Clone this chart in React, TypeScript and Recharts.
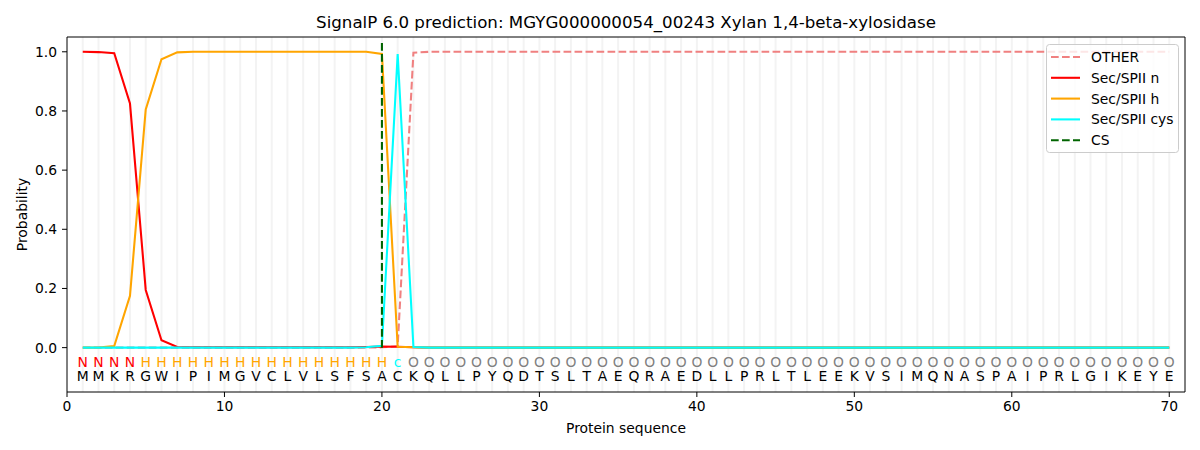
import React from 'react';
import { ComposedChart, Line, XAxis, YAxis, ReferenceLine, Legend } from 'recharts';

const residues = 'MMKRGWIPIMGVCLVLSFSACKQLLPYQDTSLTAEQRAEDLLPRLTLEEKVSIMQNASPAIPRLGIKEYE'.split('');
const states = 'NNNNHHHHHHHHHHHHHHHHcOOOOOOOOOOOOOOOOOOOOOOOOOOOOOOOOOOOOOOOOOOOOOOOOO'.split('');
const positions = residues.map((_, i) => i + 1);

const otherVals = [
  0, 0, 0, 0, 0, 0, 0, 0, 0, 0, 0, 0, 0, 0, 0, 0, 0, 0, 0, 0.001,
  0.005, 0.997, 1, 1, 1, 1, 1, 1, 1, 1, 1, 1, 1, 1, 1, 1, 1, 1, 1, 1,
  1, 1, 1, 1, 1, 1, 1, 1, 1, 1, 1, 1, 1, 1, 1, 1, 1, 1, 1, 1,
  1, 1, 1, 1, 1, 1, 1, 1, 1, 1,
];
const nVals = [
  1.0, 0.999, 0.995, 0.825, 0.195, 0.025, 0.002, 0.001, 0.001, 0.001, 0.001, 0.001, 0.001, 0.001, 0.001, 0.001, 0.001, 0.001, 0.002, 0.004,
  0.003, 0.001, 0, 0, 0, 0, 0, 0, 0, 0, 0, 0, 0, 0, 0, 0, 0, 0, 0, 0,
  0, 0, 0, 0, 0, 0, 0, 0, 0, 0, 0, 0, 0, 0, 0, 0, 0, 0, 0, 0,
  0, 0, 0, 0, 0, 0, 0, 0, 0, 0,
];
const hVals = [
  0, 0, 0.005, 0.175, 0.805, 0.975, 0.998, 1, 1, 1, 1, 1, 1, 1, 1, 1, 1, 1, 1, 0.993,
  0.003, 0.001, 0, 0, 0, 0, 0, 0, 0, 0, 0, 0, 0, 0, 0, 0, 0, 0, 0, 0,
  0, 0, 0, 0, 0, 0, 0, 0, 0, 0, 0, 0, 0, 0, 0, 0, 0, 0, 0, 0,
  0, 0, 0, 0, 0, 0, 0, 0, 0, 0,
];
const cysVals = [
  0, 0, 0, 0, 0, 0, 0, 0, 0, 0, 0, 0, 0, 0, 0, 0, 0, 0, 0.001, 0.006,
  0.992, 0.002, 0, 0, 0, 0, 0, 0, 0, 0, 0, 0, 0, 0, 0, 0, 0, 0, 0, 0,
  0, 0, 0, 0, 0, 0, 0, 0, 0, 0, 0, 0, 0, 0, 0, 0, 0, 0, 0, 0,
  0, 0, 0, 0, 0, 0, 0, 0, 0, 0,
];
const csPos = 20;
const csRange = [0, 1.035];

const xTicks = [0, 10, 20, 30, 40, 50, 60, 70];
const yTicks = [0, 0.2, 0.4, 0.6, 0.8, 1.0];
const xDomain = [0, 71];
const yDomain = [-0.15, 1.05];
const stateRowY = -0.048;
const residueRowY = -0.097;

const stateColors: Record<string, string> = { N: '#ff0000', H: '#ffa500', c: '#00ffff', O: '#808080' };

const title = 'SignalP 6.0 prediction: MGYG000000054_00243 Xylan 1,4-beta-xylosidase';

const toRows = (vals: number[]) => positions.map((p, i) => ({ x: p, y: vals[i] }));
const otherRows = toRows(otherVals);
const nRows = toRows(nVals);
const hRows = toRows(hVals);
const cysRows = toRows(cysVals);
const csRows = csRange.map((v) => ({ x: csPos, y: v }));
const stateRows = positions.map((p, i) => ({ x: p, y: stateRowY, ch: states[i], color: stateColors[states[i]] }));
const residueRows = positions.map((p, i) => ({ x: p, y: residueRowY, ch: residues[i], color: '#000000' }));

const FONT = '"DejaVu Sans", sans-serif';
const FS = 13.89;
const LW = 2.08;
const DASH = '7.7 3.3';

const legendItems = [
  { name: 'OTHER', color: '#f08080', dash: DASH },
  { name: 'Sec/SPII n', color: '#ff0000', dash: undefined },
  { name: 'Sec/SPII h', color: '#ffa500', dash: undefined },
  { name: 'Sec/SPII cys', color: '#00ffff', dash: undefined },
  { name: 'CS', color: '#006400', dash: DASH },
];

const LegendBox = () => (
  <svg width={133} height={110} style={{ display: 'block' }}>
    <rect x={0.5} y={0.5} width={132} height={108} rx={3} ry={3} fill="rgba(255,255,255,0.8)" stroke="#cccccc" />
    {legendItems.map((it, i) => {
      const cy = 13 + i * 20.8;
      return (
        <g key={it.name}>
          <line x1={5} x2={34} y1={cy} y2={cy} stroke={it.color} strokeWidth={LW} strokeDasharray={it.dash} />
          <text x={45} y={cy} dominantBaseline="central" fontSize={FS} fontFamily={FONT} fill="#000">
            {it.name}
          </text>
        </g>
      );
    })}
  </svg>
);

const textDot = (props: any) => {
  const { cx, cy, payload, index } = props;
  return (
    <text
      key={`t-${index}-${payload.ch}-${payload.y}`}
      x={cx}
      y={cy}
      textAnchor="middle"
      dominantBaseline="central"
      fontSize={FS}
      fontFamily={FONT}
      fill={payload.color}
    >
      {payload.ch}
    </text>
  );
};

export default function App() {
  return (
    <div style={{ position: 'absolute', left: 0, top: 0, width: 1200, height: 450, background: '#fff' }}>
      <div
        style={{
          position: 'absolute',
          left: 67,
          width: 1118,
          top: 13,
          textAlign: 'center',
          fontFamily: FONT,
          fontSize: 16.67,
          lineHeight: '20px',
          color: '#000',
        }}
      >
        {title}
      </div>
      <ComposedChart width={1200} height={450} margin={{ top: 37, right: 15, bottom: 0, left: 0 }}>
        <XAxis
          dataKey="x"
          type="number"
          domain={xDomain}
          ticks={xTicks}
          allowDataOverflow
          height={58}
          tickSize={5}
          tickMargin={4}
          stroke="#000"
          tick={{ fill: '#000', fontSize: FS, fontFamily: FONT }}
          label={{
            content: (p: any) => {
              const vb = p.viewBox || { x: 67, y: 392, width: 1118 };
              return (
                <text
                  x={vb.x + vb.width / 2}
                  y={vb.y + 36}
                  textAnchor="middle"
                  dominantBaseline="central"
                  fontSize={FS}
                  fontFamily={FONT}
                  fill="#000"
                >
                  Protein sequence
                </text>
              );
            },
          }}
        />
        <YAxis
          dataKey="y"
          type="number"
          domain={yDomain}
          ticks={yTicks}
          allowDataOverflow
          width={67}
          tickSize={5}
          tickMargin={5}
          stroke="#000"
          tickFormatter={(v: number) => v.toFixed(1)}
          tick={{ fill: '#000', fontSize: FS, fontFamily: FONT }}
          label={{
            content: (p: any) => {
              const vb = p.viewBox || { x: 0, y: 37, height: 355 };
              const cx = vb.x + 22;
              const cy = vb.y + vb.height / 2;
              return (
                <text
                  x={cx}
                  y={cy}
                  transform={`rotate(-90, ${cx}, ${cy})`}
                  textAnchor="middle"
                  dominantBaseline="central"
                  fontSize={FS}
                  fontFamily={FONT}
                  fill="#000"
                >
                  Probability
                </text>
              );
            },
          }}
        />
        {positions.map((p) => (
          <ReferenceLine key={`g${p}`} x={p} stroke="#f3f3f3" strokeWidth={2} />
        ))}
        <ReferenceLine y={yDomain[1]} stroke="#000" strokeWidth={1} />
        <ReferenceLine x={xDomain[1]} stroke="#000" strokeWidth={1} />
        <Line data={otherRows} dataKey="y" name="OTHER" stroke="#f08080" strokeWidth={LW} strokeDasharray={DASH} dot={false} activeDot={false} isAnimationActive={false} />
        <Line data={nRows} dataKey="y" name="Sec/SPII n" stroke="#ff0000" strokeWidth={LW} dot={false} activeDot={false} isAnimationActive={false} />
        <Line data={hRows} dataKey="y" name="Sec/SPII h" stroke="#ffa500" strokeWidth={LW} dot={false} activeDot={false} isAnimationActive={false} />
        <Line data={cysRows} dataKey="y" name="Sec/SPII cys" stroke="#00ffff" strokeWidth={LW} dot={false} activeDot={false} isAnimationActive={false} />
        <Line data={csRows} dataKey="y" name="CS" stroke="#006400" strokeWidth={LW} strokeDasharray={DASH} dot={false} activeDot={false} isAnimationActive={false} />
        <Line data={stateRows} dataKey="y" stroke="none" legendType="none" dot={textDot} activeDot={false} isAnimationActive={false} />
        <Line data={residueRows} dataKey="y" stroke="none" legendType="none" dot={textDot} activeDot={false} isAnimationActive={false} />
        <Legend
          layout="vertical"
          align="center"
          verticalAlign="middle"
          content={() => <LegendBox />}
          wrapperStyle={{ position: 'absolute', left: 1046, top: 44, width: 133, height: 110, margin: 0 }}
        />
      </ComposedChart>
    </div>
  );
}
